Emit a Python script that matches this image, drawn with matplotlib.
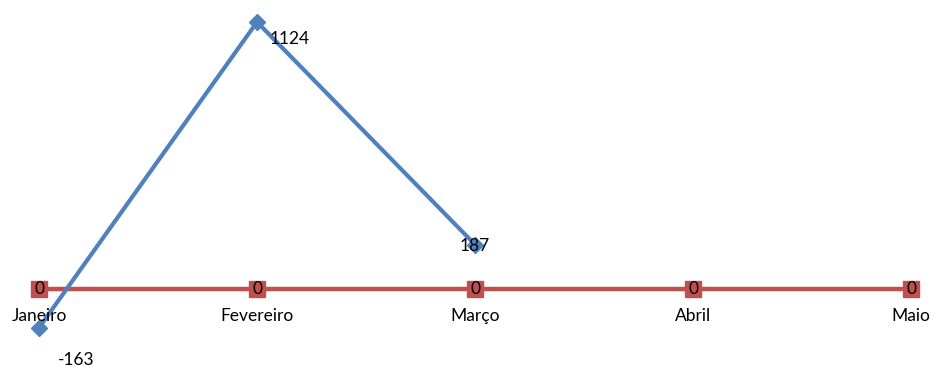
import matplotlib
matplotlib.use('Agg')
import matplotlib.pyplot as plt

meses = ['Janeiro', 'Fevereiro', 'Março', 'Abril', 'Maio']
serie_azul = [-163, 1124, 187]
serie_vermelha = [0, 0, 0, 0, 0]

# offsets (pixels) of the data labels for the blue series
desloc_azul = [(37, -32), (33, -17), (0, -1)]

plt.rcParams['font.family'] = ['Lato', 'DejaVu Sans']
fs = 12.5

fig = plt.figure(figsize=(9.35, 3.67), dpi=100)
ax = fig.add_axes([0, 0, 1, 1])

xv = list(range(len(meses)))
ax.plot(xv, serie_vermelha, color='#C0504D', lw=3.2, marker='s', ms=11,
        mec='#C0504D', mfc='#C0504D', zorder=2)
ax.plot(xv[:len(serie_azul)], serie_azul, color='#4F81BD', lw=3, marker='D', ms=8,
        mec='#4F81BD', mfc='#4F81BD', zorder=3)

for i, v in enumerate(serie_vermelha):
    ax.annotate(str(v), (i, v), xytext=(0, 0), textcoords='offset pixels',
                ha='center', va='center', fontsize=fs, zorder=5)
for i, v in enumerate(serie_azul):
    dx, dy = desloc_azul[i]
    ax.annotate(str(v), (i, v), xytext=(dx, dy), textcoords='offset pixels',
                ha='center', va='center', fontsize=fs, zorder=5)

for i, m in enumerate(meses):
    ax.annotate(m, (i, 0), xytext=(0, -27), textcoords='offset pixels',
                ha='center', va='center', fontsize=fs)

ax.set_xlim(-0.179, 4.110)
ax.set_ylim(-328.4, 1216.7)
ax.axis('off')

fig.savefig('out.png', dpi=100)
